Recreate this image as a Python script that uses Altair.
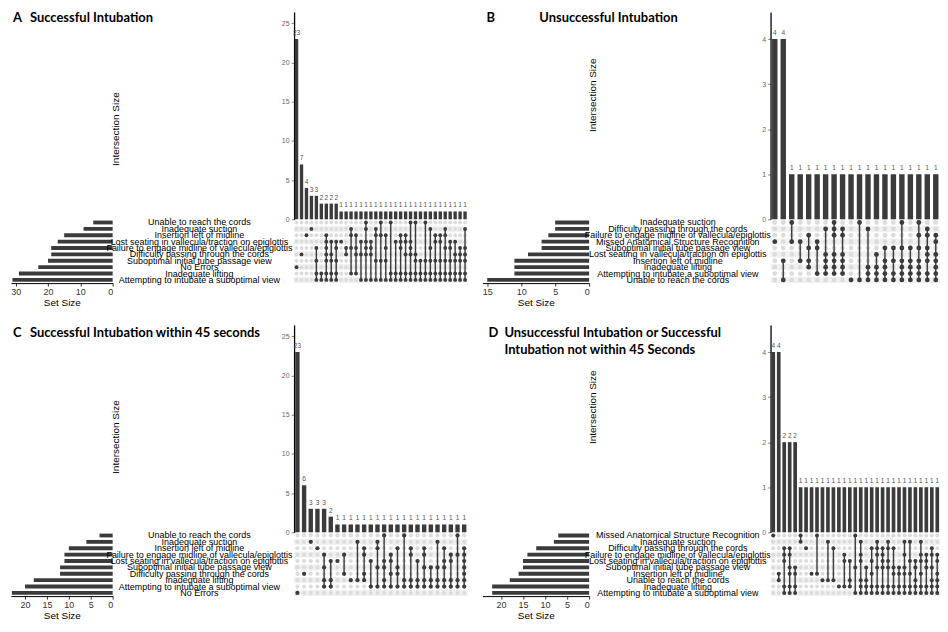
import altair as alt
import pandas as pd

FONT = "Liberation Sans"
TFONT = "Lato"
DARK = "#3b3b3b"

# ---------------- Panel A ----------------
A_letter = "A"
A_title = "Successful Intubation"
A_sets = ["Unable to reach the cords", "Inadequate suction", "Insertion left of midline",
          "Lost seating in vallecula/traction on epiglottis",
          "Failure to engage midline of vallecula/epiglottis",
          "Difficulty passing through the cords", "Suboptimal initial tube passage view",
          "No Errors", "Inadequate lifting", "Attempting to intubate a suboptimal view"]
A_set_sizes = [6, 9, 15, 17, 19, 19, 20, 23, 29, 31]
A_counts = [23, 7, 4, 3, 3, 2, 2, 2, 2] + [1] * 26
A_members = [[7], [5], [2], [1], [4, 6, 8, 9], [8, 9], [2, 3, 4, 5, 6, 8, 9], [3, 5, 6, 8, 9],
             [3, 4, 6, 8, 9], [3], [4, 5], [1, 2, 4, 8], [2, 4, 5, 8], [3, 5, 9],
             [0, 1, 3, 4, 5, 9], [3, 4, 5, 9], [1, 2, 6, 9], [0, 2, 6, 9], [2, 4, 6, 9],
             [0, 8, 9], [3, 8, 9], [2, 3, 4, 8, 9], [2, 3, 5, 8, 9], [0, 3, 4, 5, 8, 9],
             [0, 5, 6, 8, 9], [6, 8, 9], [0, 6, 8, 9], [1, 4, 6, 8, 9], [2, 3, 6, 8, 9],
             [2, 3, 6, 8, 9], [1, 2, 4, 6, 8, 9], [3, 4, 6, 8, 9], [3, 5, 6, 8, 9],
             [4, 5, 6, 8, 9], [1, 4, 5, 6, 8, 9]]
A_ticks = [0, 5, 10, 15, 20, 25]
A_size_ticks = [0, 10, 20, 30]

# ---------------- Panel B ----------------
B_letter = "B"
B_title = "Unsuccessful Intubation"
B_sets = ["Inadequate suction", "Difficulty passing through the cords",
          "Failure to engage midline of vallecula/epiglottis",
          "Missed Anatomical Structure Recognition", "Suboptimal initial tube passage view",
          "Lost seating in vallecula/traction on epiglottis", "Insertion left of midline",
          "Inadequate lifting", "Attempting to intubate a suboptimal view",
          "Unable to reach the cords"]
B_set_sizes = [5, 5, 6, 7, 7, 9, 11, 11, 11, 15]
B_counts = [4, 4] + [1] * 18
B_members = [[3], [6, 9], [0, 3], [3, 6], [2, 4, 6, 7], [3, 4, 8], [1, 5, 6, 7, 8],
             [0, 1, 2, 5, 6, 7, 8], [1, 2, 5, 6, 7, 8], [9], [0, 9], [1, 7, 8, 9],
             [5, 7, 8, 9], [4, 6, 7, 8, 9], [4, 6, 8, 9], [0, 4, 6, 7, 8, 9],
             [4, 6, 7, 8, 9], [0, 2, 4, 6, 7, 8, 9], [1, 2, 4, 5, 6, 8, 9],
             [2, 3, 5, 6, 7, 8, 9]]
B_ticks = [0, 1, 2, 3, 4]
B_size_ticks = [0, 5, 10, 15]

# ---------------- Panel C ----------------
C_letter = "C"
C_title = "Successful Intubation within 45 seconds"
C_sets = ["Unable to reach the cords", "Inadequate suction", "Insertion left of midline",
          "Failure to engage midline of vallecula/epiglottis",
          "Lost seating in vallecula/traction on epiglottis",
          "Suboptimal initial tube passage view", "Difficulty passing through the cords",
          "Inadequate lifting", "Attempting to intubate a suboptimal view", "No Errors"]
C_set_sizes = [3, 6, 10, 11, 11, 12, 12, 18, 20, 23]
C_counts = [23, 6, 3, 3, 3, 2] + [1] * 20
C_members = [[9], [6], [1], [2], [3, 5, 7, 8], [4, 7, 8], [4], [3, 6], [7], [1, 7],
             [2, 3, 6, 7], [4, 8], [1, 2, 5, 8], [0, 4, 5, 7, 8], [3, 4, 6, 8],
             [2, 5, 6, 8], [0, 7, 8], [2, 3, 7, 8], [4, 7, 8], [2, 3, 5, 7, 8], [5, 7, 8],
             [1, 5, 7, 8], [2, 4, 5, 7, 8], [3, 4, 7, 8], [0, 3, 7, 8],
             [2, 3, 4, 5, 6, 7, 8]]
C_ticks = [0, 5, 10, 15, 20, 25]
C_size_ticks = [0, 5, 10, 15, 20]

# ---------------- Panel D ----------------
D_letter = "D"
D_title = "Unsuccessful Intubation or Successful\nIntubation not within 45 Seconds"
D_sets = ["Missed Anatomical Structure Recognition", "Inadequate suction",
          "Difficulty passing through the cords",
          "Failure to engage midline of vallecula/epiglottis",
          "Lost seating in vallecula/traction on epiglottis",
          "Suboptimal initial tube passage view", "Insertion left of midline",
          "Unable to reach the cords", "Inadequate lifting",
          "Attempting to intubate a suboptimal view"]
D_set_sizes = [7, 8, 12, 14, 15, 15, 16, 18, 22, 22]
D_counts = [4, 4, 2, 2, 2] + [1] * 26
D_members = [[0], [6, 7], [2, 3, 4, 8, 9], [2, 3, 5, 6, 8, 9], [5, 6, 8, 9], [0, 1], [2],
             [6], [0, 6], [7], [1, 7], [2, 7], [8], [3, 4, 8], [4, 7, 8], [0, 5, 9],
             [1, 3, 4, 7, 8, 9], [5, 7, 8, 9], [2, 4, 6, 8, 9], [1, 2, 3, 5, 8, 9],
             [2, 3, 4, 5, 8, 9], [1, 2, 4, 5, 8, 9], [2, 5, 6, 8, 9], [5, 6, 8, 9],
             [1, 3, 5, 6, 8, 9], [1, 4, 6, 8, 9], [4, 5, 7, 8, 9], [1, 3, 4, 6, 8, 9],
             [3, 4, 5, 8, 9], [2, 3, 5, 7, 8, 9], [3, 4, 6, 7, 8, 9]]
D_ticks = [0, 1, 2, 3, 4]
D_size_ticks = [0, 5, 10, 15, 20]

# ---------------- layout ----------------
W_SET_L, W_LAB_L, W_MAT_L = 102, 152, 174
W_SET_R, W_LAB_R, W_MAT_R = 107, 152, 170
H_BARS, H_MAT, H_GAP = 208, 64, 42


def empty(w, h):
    return alt.Chart(pd.DataFrame({"v": [0]})).mark_point(opacity=0).encode(
        x=alt.value(0), y=alt.value(0)).properties(width=w, height=h)


def title_cell(letter, text, w, h, lx, tx, ty):
    df = pd.DataFrame({"letter": [letter], "title": [text]})
    base = alt.Chart(df)
    l = base.mark_text(align="left", baseline="alphabetic", font=TFONT, fontWeight="bold",
                       fontSize=13, color="black").encode(
        x=alt.value(lx), y=alt.value(ty), text="letter:N")
    t = base.mark_text(align="left", baseline="alphabetic", font=TFONT, fontWeight="bold",
                       fontSize=13, color="black", lineBreak="\n", lineHeight=17).encode(
        x=alt.value(tx), y=alt.value(ty), text="title:N")
    return (l + t).properties(width=w, height=h)


def bars_chart(counts, w, h, ticks, pad, title_y):
    df = pd.DataFrame({"col": list(range(len(counts))), "count": counts})
    ymax = max(counts) * 1.15
    x = alt.X("col:O", scale=alt.Scale(paddingInner=pad, paddingOuter=pad / 2), axis=None)
    y = alt.Y("count:Q", scale=alt.Scale(domain=[0, ymax], nice=False),
              axis=alt.Axis(values=ticks, format="d", title="Intersection Size",
                            titleX=-174, titleY=title_y, titleAngle=270,
                            titleAlign="center", titleBaseline="bottom",
                            titleFontSize=10, titleFontWeight="normal", titleColor="black",
                            labelFontSize=7, labelColor="#666666", tickColor="#888888",
                            tickSize=3, labelPadding=2, domainColor="black",
                            domainWidth=1.3, grid=False))
    base = alt.Chart(df).encode(x=x, y=y)
    bars = base.mark_bar(color=DARK)
    txt = base.mark_text(baseline="bottom", dy=-3, fontSize=6.5, color="#555555",
                         font=FONT).encode(text=alt.Text("count:Q", format="d"))
    return (bars + txt).properties(width=w, height=h)


def matrix_chart(members, nrows, w, h, dot):
    n = len(members)
    cells = pd.DataFrame([{"col": j, "row": r, "filled": r in m}
                          for j, m in enumerate(members) for r in range(nrows)])
    filled = cells[cells["filled"]]
    lines = pd.DataFrame([{"col": j, "lo": min(m), "hi": max(m)}
                          for j, m in enumerate(members) if len(m) > 1])
    stripes = pd.DataFrame([{"x0": -0.5, "x1": n - 0.5, "y0": r - 0.5, "y1": r + 0.5}
                            for r in range(nrows) if r % 2 == 1])
    xs = alt.Scale(domain=[-0.5, n - 0.5], nice=False, zero=False)
    ys = alt.Scale(domain=[-0.5, nrows - 0.5], nice=False, zero=False, reverse=True)
    st = alt.Chart(stripes).mark_rect(color="#f1f1f1").encode(
        x=alt.X("x0:Q", scale=xs, axis=None), x2="x1",
        y=alt.Y("y0:Q", scale=ys, axis=None), y2="y1")
    emp = alt.Chart(cells).mark_circle(size=dot, color="#dcdcdc", opacity=1).encode(
        x=alt.X("col:Q", scale=xs, axis=None), y=alt.Y("row:Q", scale=ys, axis=None))
    ln = alt.Chart(lines).mark_rule(color=DARK, strokeWidth=1.4).encode(
        x=alt.X("col:Q", scale=xs, axis=None), y=alt.Y("lo:Q", scale=ys, axis=None), y2="hi")
    fl = alt.Chart(filled).mark_circle(size=dot, color=DARK, opacity=1).encode(
        x=alt.X("col:Q", scale=xs, axis=None), y=alt.Y("row:Q", scale=ys, axis=None))
    return alt.layer(st, emp, ln, fl).properties(width=w, height=h)


def setsize_chart(sizes, w, h, dmax, ticks):
    df = pd.DataFrame({"row": list(range(len(sizes))), "size": sizes})
    return alt.Chart(df).mark_bar(color=DARK).encode(
        x=alt.X("size:Q", scale=alt.Scale(domain=[0, dmax], reverse=True, nice=False),
                axis=alt.Axis(values=ticks, format="d", title="Set Size", titleFontSize=10,
                              titleFontWeight="normal", titleColor="black", titlePadding=1,
                              labelFontSize=9, labelColor="#333333", labelPadding=1,
                              tickColor="#333333", tickSize=3, domainColor="black",
                              grid=False)),
        y=alt.Y("row:O", scale=alt.Scale(domain=list(range(len(sizes))), paddingInner=0.4,
                                         paddingOuter=0.2), axis=None),
    ).properties(width=w, height=h)


def labels_chart(sets, w, h, xc):
    df = pd.DataFrame({"row": list(range(len(sets))), "name": sets})
    ys = alt.Scale(domain=[-0.5, len(sets) - 0.5], nice=False, zero=False, reverse=True)
    return alt.Chart(df).mark_text(fontSize=9, font=FONT, color="black", align="center",
                                   baseline="middle").encode(
        x=alt.value(xc), y=alt.Y("row:Q", scale=ys, axis=None), text="name:N"
    ).properties(width=w, height=h)


cells = [
    # row 0: titles + intersection bars A / B
    title_cell(A_letter, A_title, W_SET_L, H_BARS, 2, 19, 10),
    empty(W_LAB_L, H_BARS),
    bars_chart(A_counts, W_MAT_L, H_BARS, A_ticks, 0.32, 117),
    title_cell(B_letter, B_title, W_SET_R, H_BARS, 4, 57, 10),
    empty(W_LAB_R, H_BARS),
    bars_chart(B_counts, W_MAT_R, H_BARS, B_ticks, 0.36, 83),
    # row 1: set sizes, labels, matrix A / B
    setsize_chart(A_set_sizes, W_SET_L, H_MAT, 31.45, A_size_ticks),
    labels_chart(A_sets, W_LAB_L, H_MAT, 72),
    matrix_chart(A_members, 10, W_MAT_L, H_MAT, 15),
    setsize_chart(B_set_sizes, W_SET_R, H_MAT, 15.7, B_size_ticks),
    labels_chart(B_sets, W_LAB_R, H_MAT, 74),
    matrix_chart(B_members, 10, W_MAT_R, H_MAT, 23),
    # row 2: gap
    empty(W_SET_L, H_GAP), empty(W_LAB_L, H_GAP), empty(W_MAT_L, H_GAP),
    empty(W_SET_R, H_GAP), empty(W_LAB_R, H_GAP), empty(W_MAT_R, H_GAP),
    # row 3: titles + intersection bars C / D
    title_cell(C_letter, C_title, W_SET_L, H_BARS, 2, 19, 12),
    empty(W_LAB_L, H_BARS),
    bars_chart(C_counts, W_MAT_L, H_BARS, C_ticks, 0.34, 112),
    title_cell(D_letter, D_title, W_SET_R, H_BARS, 6, 22, 12),
    empty(W_LAB_R, H_BARS),
    bars_chart(D_counts, W_MAT_R, H_BARS, D_ticks, 0.33, 82),
    # row 4: set sizes, labels, matrix C / D
    setsize_chart(C_set_sizes, W_SET_L, H_MAT, 23.2, C_size_ticks),
    labels_chart(C_sets, W_LAB_L, H_MAT, 72),
    matrix_chart(C_members, 10, W_MAT_L, H_MAT, 18),
    setsize_chart(D_set_sizes, W_SET_R, H_MAT, 24.2, D_size_ticks),
    labels_chart(D_sets, W_LAB_R, H_MAT, 74),
    matrix_chart(D_members, 10, W_MAT_R, H_MAT, 16),
]

chart = alt.concat(*cells, columns=6, spacing={"row": 0, "column": 15},
                   bounds="flush", align="each").properties(padding=0).configure_view(
    stroke=None).configure_axis(labelFont=FONT, titleFont=FONT).configure_text(font=FONT)

chart.save("out.html", embed_options={"renderer": "svg", "actions": False})
